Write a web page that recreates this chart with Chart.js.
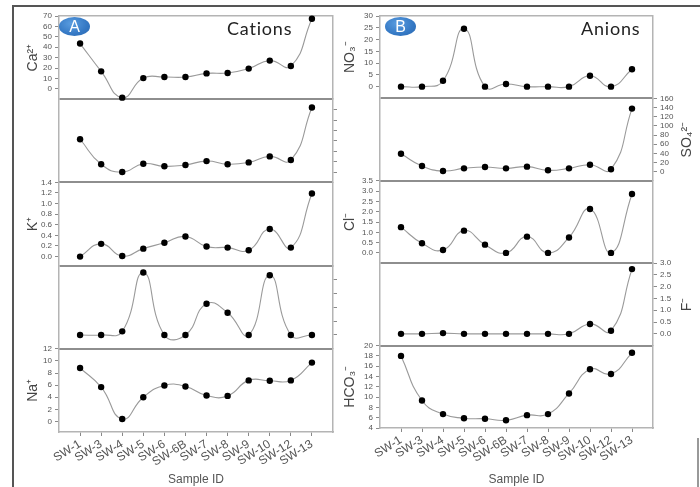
<!DOCTYPE html>
<html><head><meta charset="utf-8">
<script src="https://cdn.jsdelivr.net/npm/chart.js@4/dist/chart.umd.min.js"></script>
<style>
html,body{margin:0;padding:0;background:#fff;}
#wrap{position:relative;width:700px;height:487px;overflow:hidden;background:#fff;}
#frameTop{position:absolute;left:12px;top:5px;width:700px;height:2px;background:#555;}
#frameLeft{position:absolute;left:12px;top:5px;width:2px;height:500px;background:#555;}
#frameRight{position:absolute;left:697px;top:438px;width:2px;height:60px;background:#999;}
canvas{position:absolute;top:0;}
.badge{position:absolute;top:17px;width:31px;height:19px;border-radius:50%;
 background:radial-gradient(ellipse at 40% 35%,#5a9de0 0%,#3478c4 60%,#2a66ad 100%);
 color:#fff;font:16px "Liberation Sans",Arial,sans-serif;text-align:center;line-height:19px;}
.ttl{position:absolute;top:17px;font:18px Lato,"Open Sans",sans-serif;letter-spacing:0.8px;color:#222;line-height:22px;}
</style></head>
<body><div id="wrap">
<div id="frameTop"></div><div id="frameLeft"></div><div id="frameRight"></div>
<canvas id="cA" width="340" height="487" style="left:0px"></canvas>
<canvas id="cB" width="364" height="487" style="left:336px"></canvas>
<div class="badge" style="left:59px">A</div>
<div class="badge" style="left:385px">B</div>
<div class="ttl" style="left:227px">Cations</div>
<div class="ttl" style="left:581px">Anions</div>
</div>
<script>
const categories = ['SW-1','SW-3','SW-4','SW-5','SW-6','SW-6B','SW-7','SW-8','SW-9','SW-10','SW-12','SW-13'];

// Panel A (cations)
const ca      = [43.5, 16.8, -8.5, 10.3, 11.3, 11.3, 14.8, 15.2, 19.4, 27.1, 21.9, 67.4];
const mg      = [6.3, 1.5, 0.0, 1.6, 1.1, 1.35, 2.1, 1.5, 1.85, 3.0, 2.3, 12.4];
const k       = [0.0, 0.24, 0.01, 0.15, 0.26, 0.38, 0.19, 0.17, 0.12, 0.52, 0.17, 1.19];
const cation4 = [0, 0, 0.26, 4.5, 0, 0, 2.25, 1.6, 0, 4.3, 0, 0];
const na      = [8.83, 5.67, 0.39, 4.0, 5.94, 5.78, 4.28, 4.22, 6.78, 6.72, 6.78, 9.72];

// Panel B (anions)
const no3  = [0, 0, 2.5, 24.6, 0, 1.1, 0, 0, 0, 4.6, 0, 7.4];
const so4  = [39, 12.3, 1.4, 7.2, 10.1, 7.2, 10.9, 2.9, 7.2, 15.2, 5.1, 137.7];
const cl   = [1.25, 0.47, 0.14, 1.08, 0.40, 0.0, 0.79, 0.0, 0.75, 2.13, 0.0, 2.86];
const fl   = [0, 0, 0.03, 0, 0, 0, 0, 0, 0, 0.42, 0.13, 2.75];
const hco3 = [18.0, 9.35, 6.7, 5.9, 5.8, 5.5, 6.5, 6.7, 10.7, 15.4, 14.5, 18.6];

// Tick values
const caTicks   = [0,10,20,30,40,50,60,70];
const mgTicks   = [0,2,4,6,8,10,12];
const kTicks    = [0,0.2,0.4,0.6,0.8,1.0,1.2,1.4];
const c4Ticks   = [0,1,2,3,4];
const naTicks   = [0,2,4,6,8,10,12];
const no3Ticks  = [0,5,10,15,20,25,30];
const so4Ticks  = [0,20,40,60,80,100,120,140,160];
const clTicks   = [0,0.5,1.0,1.5,2.0,2.5,3.0,3.5];
const fTicks    = [0,0.5,1.0,1.5,2.0,2.5,3.0];
const hco3Ticks = [4,6,8,10,12,14,16,18,20];

const FONT = '"Liberation Sans", Arial, sans-serif';
const FRAME = '#b4b4b4';
const SEP = '#8e8e8e';
const fmt0 = v => String(v);
const fmt1 = v => Number(v).toFixed(1);

// draws right-side axis titles reading bottom-to-top (like the left ones)
const rightTitlePlugin = {
  id: 'rightTitle',
  afterDraw(chart) {
    const ctx = chart.ctx;
    Object.values(chart.scales).forEach(sc => {
      const t = sc.options.rtitle;
      if (!t) return;
      ctx.save();
      ctx.translate(sc.right - 11, (sc.top + sc.bottom) / 2);
      ctx.rotate(-Math.PI / 2);
      ctx.font = '14px ' + FONT;
      ctx.fillStyle = '#444';
      ctx.textAlign = 'center';
      ctx.textBaseline = 'middle';
      ctx.fillText(t, 0, 0);
      ctx.restore();
    });
  }
};

function buildPanel(id, subs, dims) {
  const scales = {};
  const datasets = [];
  const n = subs.length;
  scales.x = {
    type: 'linear', position: 'bottom', min: -1, max: 12,
    afterBuildTicks: sc => { sc.ticks = categories.map((c, i) => ({value: i})); },
    afterFit: sc => { sc.height = dims.xH; },
    ticks: {autoSkip: false, minRotation: 32, maxRotation: 32, padding: 1,
      font: {family: FONT, size: 12}, color: '#555',
      callback: v => categories[v]},
    grid: {drawOnChartArea: false, drawTicks: true, tickLength: 4, color: '#888', lineWidth: 1},
    border: {display: true, color: FRAME, width: 1.5},
    title: {display: true, text: 'Sample ID', font: {family: FONT, size: 12}, color: '#555',
      padding: {top: 0, bottom: 0}}
  };
  subs.forEach((s, i) => {
    const dataSide = s.side;
    const otherSide = dataSide === 'left' ? 'right' : 'left';
    const wOf = side => side === 'left' ? (n - i) : (i + 1);
    const widthOf = side => side === 'left' ? dims.leftW : dims.rightW;
    const ticksArr = s.ticks;
    scales['d' + i] = {
      type: 'linear', position: dataSide, stack: dataSide === 'left' ? 'L' : 'R',
      stackWeight: 1, weight: wOf(dataSide), min: s.min, max: s.max,
      rtitle: dataSide === 'right' ? (s.title || '') : '',
      afterBuildTicks: sc => { sc.ticks = ticksArr.map(v => ({value: v})); },
      afterFit: sc => { sc.width = widthOf(dataSide); },
      ticks: {display: s.labels, autoSkip: false, padding: 3, font: {family: FONT, size: 8}, color: '#555',
        callback: s.fmt || fmt0},
      grid: {drawOnChartArea: false, drawTicks: true, tickLength: 4, color: '#8a8a8a', lineWidth: 1},
      border: {display: true, color: FRAME, width: 1.5},
      title: {display: dataSide === 'left' && !!s.title, text: s.title || '', font: {family: FONT, size: 14}, color: '#444',
        padding: {top: 4, bottom: 4}}
    };
    scales['p' + i] = {
      type: 'linear', position: otherSide, stack: otherSide === 'left' ? 'L' : 'R',
      stackWeight: 1, weight: wOf(otherSide), min: 0, max: 1,
      afterBuildTicks: sc => { sc.ticks = [{value: 1}]; },
      afterFit: sc => { sc.width = widthOf(otherSide); },
      ticks: {display: false},
      grid: {drawOnChartArea: true, drawTicks: false,
        color: i === 0 ? FRAME : SEP, lineWidth: i === 0 ? 1.5 : 2},
      border: {display: true, color: FRAME, width: 1.5}
    };
    datasets.push({
      data: s.data.map((y, j) => ({x: j, y: y})),
      xAxisID: 'x', yAxisID: 'd' + i,
      borderColor: '#9a9a9a', borderWidth: 1.1, tension: 0.5,
      pointRadius: 3.2, pointBackgroundColor: '#000', pointBorderColor: '#000', pointBorderWidth: 0,
      clip: 6, fill: false
    });
  });
  return new Chart(document.getElementById(id), {
    type: 'line',
    data: {datasets},
    plugins: [rightTitlePlugin],
    options: {
      responsive: false, animation: false, devicePixelRatio: 1,
      layout: {padding: dims.padding},
      plugins: {legend: {display: false}, tooltip: {enabled: false}, title: {display: false}},
      scales
    }
  });
}

buildPanel('cA', [
  {title: 'Ca²⁺', data: ca, min: -10, max: 70, ticks: caTicks, side: 'left', labels: true, fmt: fmt0},
  {title: '', data: mg, min: -2, max: 14, ticks: mgTicks, side: 'right', labels: false},
  {title: 'K⁺', data: k, min: -0.17, max: 1.4, ticks: kTicks, side: 'left', labels: true, fmt: fmt1},
  {title: '', data: cation4, min: -1, max: 5, ticks: c4Ticks, side: 'right', labels: false},
  {title: 'Na⁺', data: na, min: -1.75, max: 12, ticks: naTicks, side: 'left', labels: true, fmt: fmt0}
], {padding: {left: 21, right: 0, top: 16, bottom: 0}, leftW: 38, rightW: 7, xH: 55});

buildPanel('cB', [
  {title: 'NO₃⁻', data: no3, min: -5, max: 30, ticks: no3Ticks, side: 'left', labels: true, fmt: fmt0},
  {title: 'SO₄²⁻', data: so4, min: -20, max: 160, ticks: so4Ticks, side: 'right', labels: true, fmt: fmt0},
  {title: 'Cl⁻', data: cl, min: -0.5, max: 3.5, ticks: clTicks, side: 'left', labels: true, fmt: fmt1},
  {title: 'F⁻', data: fl, min: -0.5, max: 3.0, ticks: fTicks, side: 'right', labels: true, fmt: fmt1},
  {title: 'HCO₃⁻', data: hco3, min: 4, max: 20, ticks: hco3Ticks, side: 'left', labels: true, fmt: fmt0}
], {padding: {left: 2, right: 2, top: 16, bottom: 0}, leftW: 42, rightW: 45, xH: 59});
</script>
</body></html>
